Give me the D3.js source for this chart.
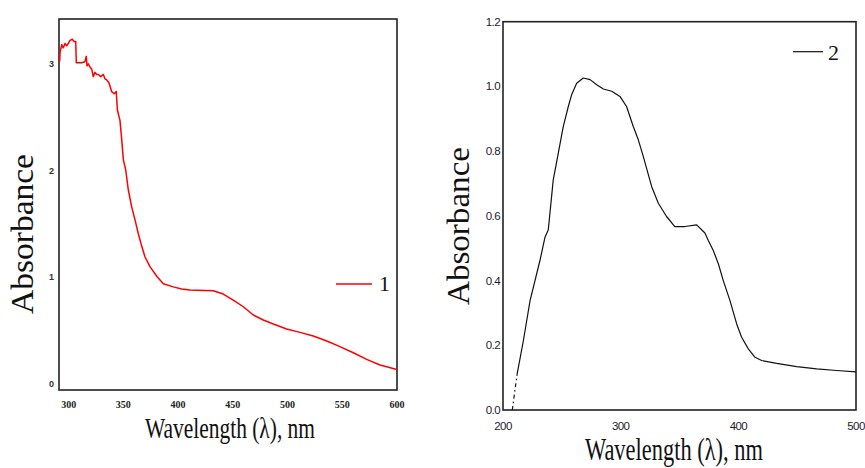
<!DOCTYPE html>
<html>
<head>
<meta charset="utf-8">
<script src="https://cdn.jsdelivr.net/npm/d3@7/dist/d3.min.js"></script>
<style>
  html, body { margin: 0; padding: 0; background: #fff; }
  svg { display: block; }
</style>
</head>
<body>
<svg id="chart" width="865" height="468"></svg>
<script>
// Spectrum 1 (red): wavelength (nm) and absorbance
const wl1 = [291.8, 292.2, 293.7, 295.1, 296.7, 298.2, 299.7, 301.2, 303.4, 304.9, 306.5,
  307.0, 311.9, 314.9, 316.1, 316.8, 318.0, 319.5, 321.1, 322.5, 324.1, 325.6, 327.1,
  329.3, 331.7, 333.2, 334.8, 336.9, 339.3, 341.7, 343.5, 344.5, 346.9, 348.5, 350.0,
  352.1, 354.5, 357.6, 360.6, 363.6, 366.8, 369.8, 374.3, 380.5, 386.5, 395.6, 403.3,
  410.9, 432.2, 441.3, 450.4, 459.6, 468.7, 477.8, 487.0, 499.2, 511.4, 523.5, 535.8,
  547.9, 560.1, 572.3, 584.5, 598.2, 600];
const abs1 = [3.02, 3.11, 3.18, 3.15, 3.19, 3.17, 3.19, 3.22, 3.23, 3.21, 3.21,
  3.01, 3.01, 3.02, 3.07, 2.98, 3.00, 2.97, 2.95, 2.88, 2.92, 2.90, 2.90,
  2.88, 2.90, 2.86, 2.85, 2.82, 2.74, 2.72, 2.74, 2.57, 2.47, 2.29, 2.10,
  2.01, 1.82, 1.66, 1.54, 1.41, 1.29, 1.19, 1.10, 1.01, 0.94, 0.91, 0.89,
  0.88, 0.874, 0.843, 0.787, 0.724, 0.647, 0.600, 0.562, 0.515, 0.484, 0.450, 0.403,
  0.350, 0.293, 0.231, 0.178, 0.141, 0.136];

// Spectrum 2 (black): steep onset drawn dashed, then the measured trace
const wl2Onset = [207.9, 212];
const abs2Onset = [0, 0.111];
const wl2 = [212, 217.3, 223, 231.4, 235.7, 238.5, 242.7, 247, 251.2, 255.5, 258.3, 262.6,
  268.2, 274, 279.6, 285.3, 292.4, 299.4, 305, 310.7, 315, 319.2, 326.3, 332, 339, 346,
  354.6, 364.6, 371.6, 374.5, 378.7, 383, 387.2, 392.9, 398.6, 402.8, 408.5, 414.2,
  419.8, 432.6, 449.6, 466.6, 483.5, 500];
const abs2 = [0.111, 0.214, 0.338, 0.462, 0.534, 0.557, 0.711, 0.794, 0.876, 0.938, 0.974, 1.010,
  1.026, 1.021, 1.005, 0.992, 0.985, 0.969, 0.938, 0.876, 0.835, 0.784, 0.691, 0.639, 0.598, 0.567,
  0.567, 0.572, 0.547, 0.524, 0.493, 0.452, 0.400, 0.338, 0.266, 0.225, 0.189, 0.163,
  0.153, 0.144, 0.134, 0.127, 0.122, 0.118];

const xTicks1 = [300, 350, 400, 450, 500, 550, 600];
const yTicks1 = [0, 1, 2, 3];
const xTicks2 = [200, 300, 400, 500];
const yTicks2 = [0, 0.2, 0.4, 0.6, 0.8, 1.0, 1.2];

const legend1 = "1";
const legend2 = "2";
const xTitle = "Wavelength (λ), nm";
const yTitle = "Absorbance";

const svg = d3.select("#chart");
svg.append("rect").attr("width", 865).attr("height", 468).attr("fill", "#fff");

const serif = "'Liberation Serif', 'Times New Roman', serif";
const sans = "'Liberation Sans', Arial, sans-serif";

// ---------- Panel 1 ----------
const x1 = d3.scaleLinear().domain([291.2, 600]).range([59, 397]);
const y1 = d3.scaleLinear().domain([-0.056, 3.42]).range([390, 19]);

const p1 = svg.append("g");
p1.append("rect")
  .attr("x", x1.range()[0]).attr("y", y1.range()[1])
  .attr("width", x1.range()[1] - x1.range()[0])
  .attr("height", y1.range()[0] - y1.range()[1])
  .attr("fill", "none").attr("stroke", "#222").attr("stroke-width", 1.6);

p1.append("path")
  .datum(d3.zip(wl1, abs1))
  .attr("fill", "none").attr("stroke", "#ff0000").attr("stroke-width", 1.5)
  .attr("stroke-linejoin", "round")
  .attr("d", d3.line().x(d => x1(d[0])).y(d => y1(d[1])));

p1.selectAll(".yt").data(yTicks1).join("text")
  .attr("x", 54).attr("y", d => y1(d)).attr("dy", "0.35em")
  .attr("text-anchor", "end")
  .attr("font-family", sans).attr("font-weight", "bold").attr("font-size", 9)
  .attr("fill", "#333")
  .text(d => d);

p1.selectAll(".xt").data(xTicks1).join("text")
  .attr("x", d => x1(d) - 7.5).attr("y", 408)
  .attr("font-family", serif).attr("font-weight", "bold").attr("font-size", 10)
  .attr("textLength", 15).attr("lengthAdjust", "spacingAndGlyphs")
  .attr("fill", "#222")
  .text(d => d);

p1.append("text")
  .attr("x", 145).attr("y", 438)
  .attr("font-family", serif).attr("font-size", 30)
  .attr("textLength", 170).attr("lengthAdjust", "spacingAndGlyphs")
  .attr("fill", "#111")
  .text(xTitle);

p1.append("text")
  .attr("transform", "translate(33,234) rotate(-90)")
  .attr("text-anchor", "middle")
  .attr("font-family", serif).attr("font-size", 31)
  .attr("textLength", 160).attr("lengthAdjust", "spacingAndGlyphs")
  .attr("fill", "#111")
  .text(yTitle);

p1.append("line")
  .attr("x1", 336).attr("x2", 372).attr("y1", 284).attr("y2", 284)
  .attr("stroke", "#ff0000").attr("stroke-width", 1.5);
p1.append("text")
  .attr("x", 379).attr("y", 291)
  .attr("font-family", serif).attr("font-size", 22).attr("fill", "#111")
  .text(legend1);

// ---------- Panel 2 ----------
const x2 = d3.scaleLinear().domain([200, 500]).range([503, 856]);
const y2 = d3.scaleLinear().domain([0, 1.2]).range([410, 21.7]);

const p2 = svg.append("g");
p2.append("rect")
  .attr("x", x2.range()[0]).attr("y", y2.range()[1])
  .attr("width", x2.range()[1] - x2.range()[0])
  .attr("height", y2.range()[0] - y2.range()[1])
  .attr("fill", "none").attr("stroke", "#222").attr("stroke-width", 1.6);

const line2 = d3.line().x(d => x2(d[0])).y(d => y2(d[1]));
p2.append("path")
  .datum(d3.zip(wl2Onset, abs2Onset))
  .attr("fill", "none").attr("stroke", "#111").attr("stroke-width", 1.2)
  .attr("stroke-dasharray", "4,3,1.5,3")
  .attr("d", line2);
p2.append("path")
  .datum(d3.zip(wl2, abs2))
  .attr("fill", "none").attr("stroke", "#111").attr("stroke-width", 1.2)
  .attr("stroke-linejoin", "round")
  .attr("d", line2);

p2.selectAll(".yt").data(yTicks2).join("text")
  .attr("x", 500).attr("y", d => y2(d)).attr("dy", "0.35em")
  .attr("text-anchor", "end")
  .attr("font-family", sans).attr("font-size", 11.5).attr("letter-spacing", -0.6)
  .attr("fill", "#1c1c2c")
  .text(d => d.toFixed(1));

p2.selectAll(".xt").data(xTicks2).join("text")
  .attr("x", d => x2(d)).attr("y", 430)
  .attr("text-anchor", "middle")
  .attr("font-family", sans).attr("font-size", 11.5).attr("letter-spacing", -0.6)
  .attr("fill", "#1c1c2c")
  .text(d => d);

p2.append("text")
  .attr("x", 585).attr("y", 460)
  .attr("font-family", serif).attr("font-size", 31)
  .attr("textLength", 178).attr("lengthAdjust", "spacingAndGlyphs")
  .attr("fill", "#111")
  .text(xTitle);

p2.append("text")
  .attr("transform", "translate(469,226) rotate(-90)")
  .attr("text-anchor", "middle")
  .attr("font-family", serif).attr("font-size", 32)
  .attr("textLength", 158).attr("lengthAdjust", "spacingAndGlyphs")
  .attr("fill", "#111")
  .text(yTitle);

p2.append("line")
  .attr("x1", 793).attr("x2", 823).attr("y1", 51.7).attr("y2", 51.7)
  .attr("stroke", "#111").attr("stroke-width", 1.2);
p2.append("text")
  .attr("x", 828).attr("y", 60)
  .attr("font-family", serif).attr("font-size", 22).attr("fill", "#111")
  .text(legend2);
</script>
</body>
</html>
